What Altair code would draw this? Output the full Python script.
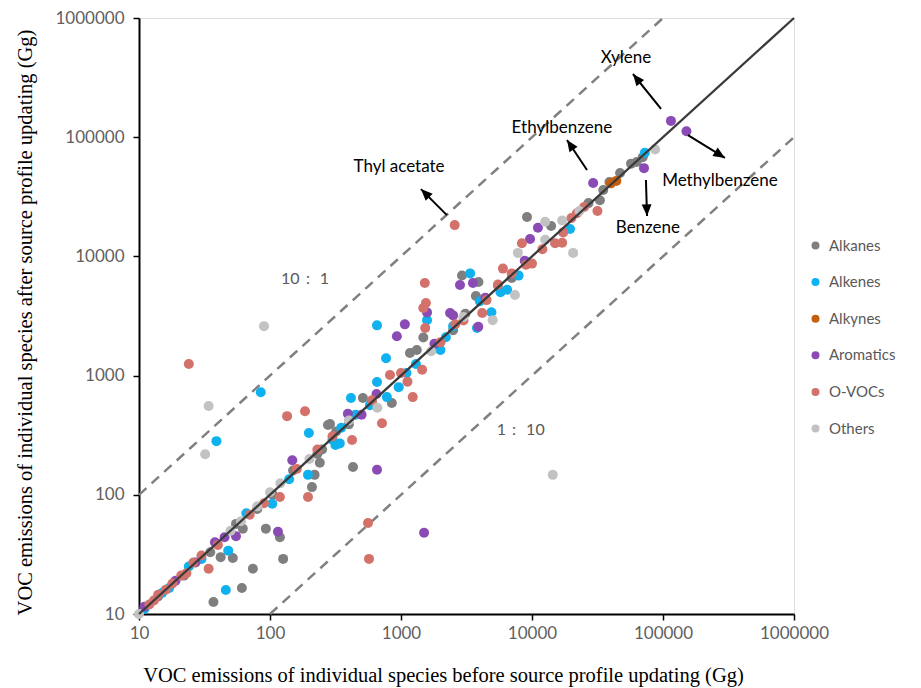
import altair as alt
import pandas as pd

categories = ["Alkanes", "Alkenes", "Alkynes", "Aromatics", "O-VOCs", "Others"]
colors = ["#7f7f7f", "#0fb2ee", "#c55f0e", "#8a4bb5", "#d3726b", "#c2c2c2"]

# (before, after) in Gg
alkanes_x = [14, 22, 35, 55, 80, 105, 150, 230, 250, 320, 400, 600, 1170, 1320, 1480, 1900, 2500, 3100, 3730, 3900, 2920, 5500, 7000, 9160, 14000, 27000, 33000, 35000, 39000, 47000, 57000, 63000, 70000,
             209, 219, 93, 62, 119, 42, 52, 126, 74, 61, 37, 287, 512, 430, 851, 240, 277]
alkanes_y = [14, 21, 33, 57, 76, 100, 160, 220, 240, 340, 390, 590, 1550, 1640, 2090, 1800, 2400, 3300, 4650, 6100, 6920, 5700, 6600, 21400, 18000, 28000, 29600, 36000, 42000, 50000, 60000, 62000, 68000,
             116, 147, 52, 52, 44, 30, 29.5, 29, 24, 16.5, 12.6, 393, 648, 171, 589, 186, 385]

alkenes_x = [11, 15, 17, 24, 30, 66, 140, 300, 350, 450, 580, 960, 1100, 1300, 2000, 2200, 2500, 4000, 5750, 6460, 9000, 19500, 1580, 3370, 72700, 3800, 4900, 7900, 780,
             104, 85, 39, 198, 195, 656, 769, 656, 415, 316, 341, 48, 46]
alkenes_y = [11, 15, 16.5, 25, 29, 70, 135, 290, 365, 470, 565, 800, 1050, 1250, 1640, 2100, 2600, 4200, 5000, 5250, 9000, 17000, 2920, 7200, 74000, 2510, 3400, 6900, 660,
             84, 725, 282, 330, 147, 2640, 1400, 883, 648, 262, 270, 34, 15.9]

alkynes_x = [40000, 44000]
alkynes_y = [41000, 43000]

aromatics_x = [115000, 151000, 71600, 29300, 11100, 9660, 2820, 3540, 2370, 2500, 3890, 1070, 930, 1580, 656, 1500, 148, 115, 55, 27, 11, 19, 38, 45, 393, 500, 1800, 4400, 8800, 650]
aromatics_y = [137000, 112000, 55000, 41300, 17400, 14000, 5760, 5980, 3350, 3200, 2570, 2690, 2140, 3390, 162, 48, 195, 49, 45, 27, 11.5, 19, 40, 44, 478, 470, 1850, 4500, 9200, 700]

ovocs_x = [24, 135, 185, 2570, 1520, 1550, 1480, 1530, 34, 119, 195, 560, 570, 423, 716, 1230, 8370, 15000, 17000, 17300, 10000, 31600, 4170, 1450, 1120, 824, 6000,
           12, 13, 14, 16, 18, 21, 23, 26, 30, 40, 70, 90, 160, 230, 300, 600, 1000, 2000, 2600, 3000, 4500, 5500, 7000, 9000, 12000, 20000, 22000, 25000]
ovocs_y = [1250, 457, 503, 18300, 5980, 4070, 3690, 2510, 24, 96, 96, 58, 29, 288, 398, 660, 12900, 12900, 13000, 15900, 8700, 24000, 3350, 1120, 890, 1010, 7900,
           12, 13, 14.5, 16, 18, 21, 22, 27, 31, 38, 68, 85, 165, 240, 310, 620, 1050, 1900, 2700, 2900, 4300, 5800, 7200, 8500, 11500, 21000, 23000, 26000]

others_x = [90, 34, 32, 14400, 20600, 7410, 5010, 12600, 12600, 7800, 87000, 10, 50, 60, 80, 100, 120, 200, 660, 23000, 17000, 3000, 1700, 400]
others_y = [2600, 556, 219, 147, 10700, 4740, 2920, 19500, 13800, 10700, 79000, 10, 50, 60, 80, 105, 125, 200, 537, 24000, 20000, 3100, 1600, 420]

series = [
    ("Alkanes", alkanes_x, alkanes_y),
    ("Alkenes", alkenes_x, alkenes_y),
    ("Alkynes", alkynes_x, alkynes_y),
    ("Aromatics", aromatics_x, aromatics_y),
    ("O-VOCs", ovocs_x, ovocs_y),
    ("Others", others_x, others_y),
]
rows = []
for i, (cat, xs_, ys_) in enumerate(series):
    for j, (a, b) in enumerate(zip(xs_, ys_)):
        rows.append({"cat": cat, "x": a, "y": b, "order": i * 1000 + j})
pts = pd.DataFrame(rows)

# reference lines
ref_name = ["10:1", "10:1", "1:10", "1:10"]
ref_x = [10, 100000, 100, 1000000]
ref_y = [100, 1000000, 10, 100000]
dash_df = pd.DataFrame({"name": ref_name, "x": ref_x, "y": ref_y})
one_df = pd.DataFrame({"x": [10, 1000000], "y": [10, 1000000]})

# annotations
ann_text = ["Xylene", "Ethylbenzene", "Methylbenzene", "Benzene", "Thyl acetate"]
ann_tx = [52200, 16900, 272000, 76700, 966]
ann_ty = [461000, 119000, 43000, 17300, 56200]
arrow_x1 = [96600, 26300, 155000, 74100, 2240]
arrow_y1 = [172600, 53100, 104000, 43700, 22200]
arrow_x2 = [59000, 18500, 297000, 75500, 1420]
arrow_y2 = [339000, 94800, 67000, 21800, 36700]
arrow_ang = [321, 326, 122, 178, 315]

ann_df = pd.DataFrame({"t": ann_text, "x": ann_tx, "y": ann_ty})
arr_df = pd.DataFrame({"x": arrow_x1, "y": arrow_y1, "x2": arrow_x2, "y2": arrow_y2})
head_df = pd.DataFrame({"x": arrow_x2, "y": arrow_y2, "ang": arrow_ang})

ratio_text = ["10\uff1a 1", "1\uff1a 10"]
ratio_x = [185, 8200]
ratio_y = [6460, 350]
ratio_df = pd.DataFrame({"t": ratio_text, "x": ratio_x, "y": ratio_y})

ticks = [10, 100, 1000, 10000, 100000, 1000000]
xs = alt.Scale(type="log", domain=[10, 1000000], nice=False)
ys = alt.Scale(type="log", domain=[10, 1000000], nice=False)

common_axis = dict(values=ticks, format="d", grid=False, domainColor="black", domainWidth=2,
                   tickColor="black", tickWidth=1.5, tickSize=6, labelFont="Lato", labelFontSize=17,
                   labelColor="#5f5f5f", labelFlush=False, labelOverlap=False,
                   titleFont="Liberation Serif", titleFontSize=20.5, titleFontWeight="normal",
                   titleColor="black")

x_axis = alt.Axis(title="VOC emissions of individual species before source profile updating (Gg)",
                  labelPadding=5, titleX=304, titleY=61, titleAlign="center", titleBaseline="middle",
                  **common_axis)
y_axis = alt.Axis(title="VOC emissions of individual species after source profile updating (Gg)",
                  labelPadding=9, titleX=-114, titleY=304, titleAngle=-90, titleAlign="center",
                  titleBaseline="middle", **common_axis)

dashed = alt.Chart(dash_df).mark_line(color="#808080", strokeWidth=2.5, strokeDash=[10, 7]).encode(
    x=alt.X("x:Q", scale=xs), y=alt.Y("y:Q", scale=ys), detail="name:N")

points = alt.Chart(pts).mark_circle(size=100, opacity=1).encode(
    x=alt.X("x:Q", scale=xs, axis=x_axis),
    y=alt.Y("y:Q", scale=ys, axis=y_axis),
    color=alt.Color("cat:N", scale=alt.Scale(domain=categories, range=colors),
                    legend=alt.Legend(title=None, orient="none", legendX=669, legendY=220,
                                      symbolType="circle", symbolSize=64, symbolStrokeWidth=0,
                                      labelFont="Lato", labelFontSize=15, labelColor="#595959",
                                      rowPadding=20.6, labelOffset=6, padding=0)),
    order=alt.Order("order:Q"))

one = alt.Chart(one_df).mark_line(color="#3a3a3a", strokeWidth=2.3).encode(
    x=alt.X("x:Q", scale=xs), y=alt.Y("y:Q", scale=ys))

arrows = alt.Chart(arr_df).mark_rule(color="black", strokeWidth=2).encode(
    x=alt.X("x:Q", scale=xs), y=alt.Y("y:Q", scale=ys), x2="x2:Q", y2="y2:Q")

heads = alt.Chart(head_df).mark_point(shape="M0,0L-0.55,1.3L0.55,1.3Z", filled=True, color="black",
                                      size=320, opacity=1).encode(
    x=alt.X("x:Q", scale=xs), y=alt.Y("y:Q", scale=ys), angle=alt.Angle("ang:Q", scale=None))

labels = alt.Chart(ann_df).mark_text(font="Lato", fontSize=17, color="black").encode(
    x=alt.X("x:Q", scale=xs), y=alt.Y("y:Q", scale=ys), text="t:N")

ratios = alt.Chart(ratio_df).mark_text(font="Lato", fontSize=16, color="#595959").encode(
    x=alt.X("x:Q", scale=xs), y=alt.Y("y:Q", scale=ys), text="t:N")

chart = alt.layer(dashed, points, one, arrows, heads, labels, ratios).properties(
    width=655, height=596,
    autosize=alt.AutoSizeParams(type="none"),
    padding={"left": 131, "top": 10, "right": 118, "bottom": 74},
).configure_view(stroke="black", strokeWidth=2).configure(background="white")

chart.save("out.html", embed_options={"renderer": "svg", "actions": False})
